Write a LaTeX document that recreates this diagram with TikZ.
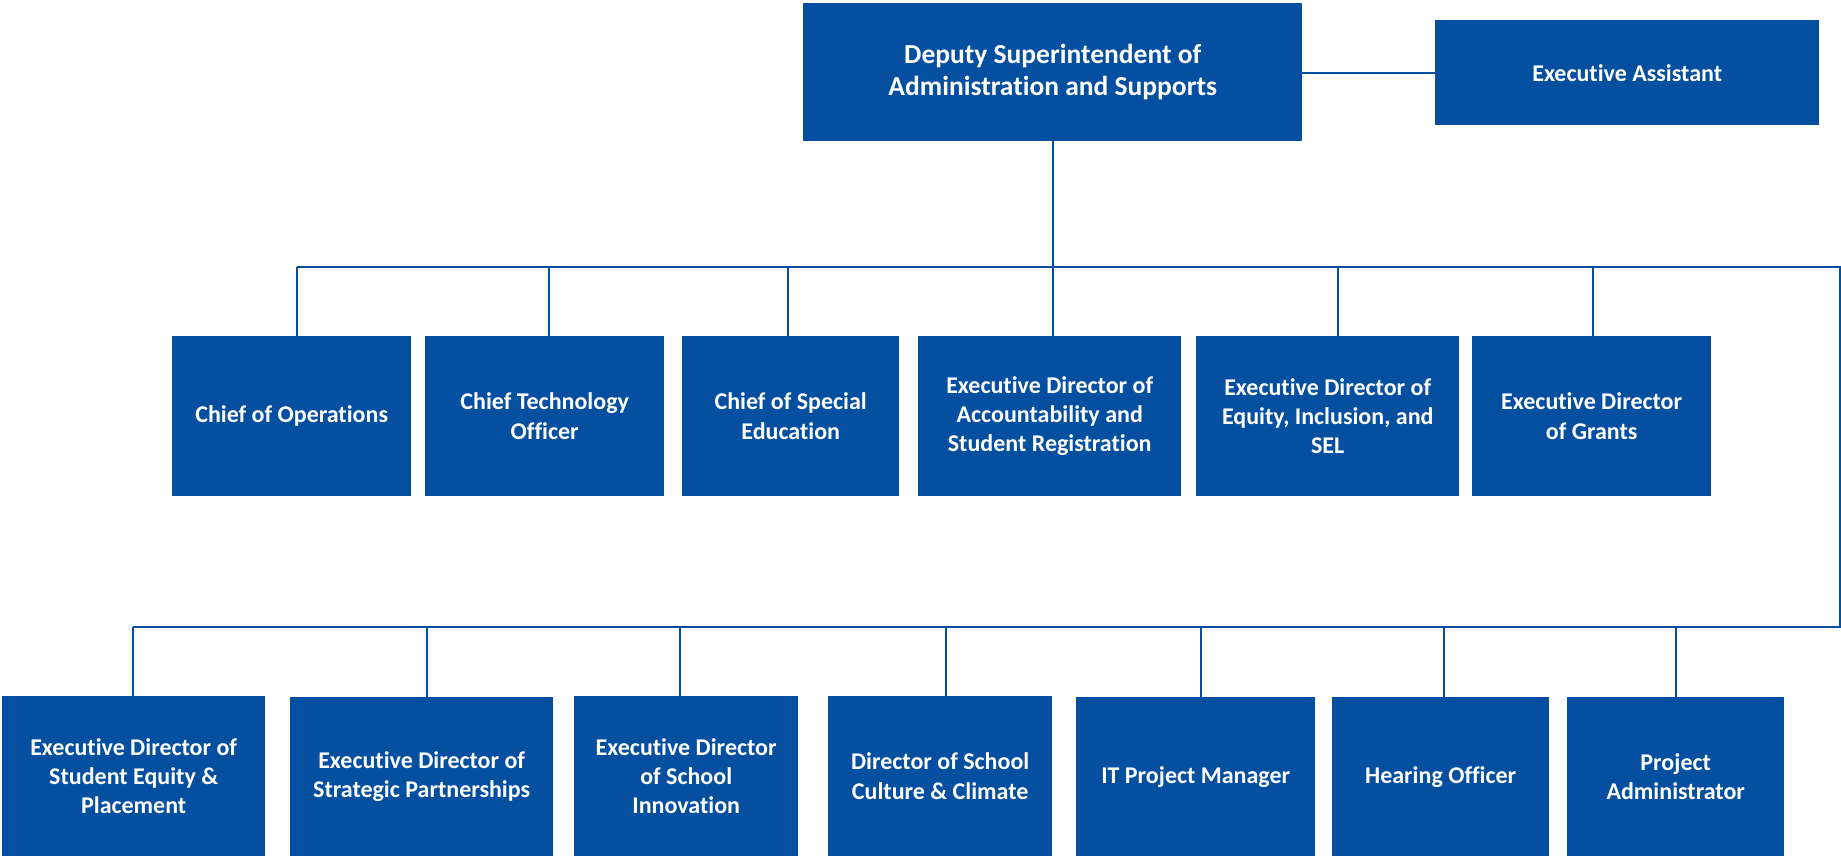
\documentclass[tikz,border=0pt]{standalone}
\usepackage{fontspec}
\setmainfont[RawFeature={-liga}]{Carlito}
\definecolor{orgblue}{HTML}{044FA0}
\begin{document}
\begin{tikzpicture}[x=1pt,y=-1pt,
  box/.style={fill=orgblue, draw=none, inner sep=0pt, anchor=north west, align=center,
    text=white, font=\fontsize{24}{29.3}\selectfont\bfseries},
  bigbox/.style={box, font=\fontsize{27.5}{32}\selectfont\bfseries},
  link/.style={draw=orgblue, line width=2pt}]
\useasboundingbox (0,0) rectangle (1841,856);
% top
\node[bigbox, minimum width=499pt, minimum height=138pt] (dep) at (803,3) {Deputy Superintendent of\\Administration and Supports};
\node[box, minimum width=384pt, minimum height=105pt] (ea) at (1435,20) {Executive Assistant};
% row 1
\node[box, minimum width=239pt, minimum height=160pt] (ops) at (172,336) {Chief of Operations};
\node[box, minimum width=239pt, minimum height=160pt] (tech) at (425,336) {Chief Technology\\Officer};
\node[box, minimum width=217pt, minimum height=160pt] (sped) at (682,336) {Chief of Special\\Education};
\node[box, minimum width=263pt, minimum height=160pt] (acct) at (918,336) {Executive Director of\\Accountability and\\Student Registration};
\node[box, minimum width=263pt, minimum height=160pt] (eq) at (1196,336) {Executive Director of\\Equity, Inclusion, and\\SEL};
\node[box, minimum width=239pt, minimum height=160pt] (grants) at (1472,336) {Executive Director\\of Grants};
% row 2
\node[box, minimum width=263pt, minimum height=160pt] (steq) at (2,696) {Executive Director of\\Student Equity \&\\Placement};
\node[box, minimum width=263pt, minimum height=159pt] (strat) at (290,697) {Executive Director of\\Strategic Partnerships};
\node[box, minimum width=224pt, minimum height=160pt] (innov) at (574,696) {Executive Director\\of School\\Innovation};
\node[box, minimum width=224pt, minimum height=160pt] (cult) at (828,696) {Director of School\\Culture \& Climate};
\node[box, minimum width=239pt, minimum height=159pt] (itpm) at (1076,697) {IT Project Manager};
\node[box, minimum width=217pt, minimum height=159pt] (hear) at (1332,697) {Hearing Officer};
\node[box, minimum width=217pt, minimum height=159pt] (padm) at (1567,697) {Project\\Administrator};
% bus coordinates
\coordinate (busA) at (1053,267);
\coordinate (busR) at (1840,267);
\coordinate (busB) at (1840,627);
% connectors
\draw[link] (dep.east |- 0,73) -- (ea.west |- 0,73);
\draw[link] (dep.south -| busA) -- (busA);
\draw[link] ([xshift=5.5pt]ops.north |- busA) -- (busR) -- (busB) -- ([xshift=-0.5pt]steq.north |- busB);
\draw[link] ([xshift=5.5pt]ops.north) -- ++(0,-69);
\draw[link] ([xshift=4.5pt]tech.north) -- ++(0,-69);
\draw[link] ([xshift=-2.5pt]sped.north) -- ++(0,-69);
\draw[link] ([xshift=3.5pt]acct.north) -- ++(0,-69);
\draw[link] ([xshift=10.5pt]eq.north) -- ++(0,-69);
\draw[link] ([xshift=1.5pt]grants.north) -- ++(0,-69);
\draw[link] ([xshift=-0.5pt]steq.north) -- ([xshift=-0.5pt]steq.north |- busB);
\draw[link] ([xshift=5.5pt]strat.north) -- ([xshift=5.5pt]strat.north |- busB);
\draw[link] ([xshift=-6pt]innov.north) -- ([xshift=-6pt]innov.north |- busB);
\draw[link] ([xshift=6pt]cult.north) -- ([xshift=6pt]cult.north |- busB);
\draw[link] ([xshift=5.5pt]itpm.north) -- ([xshift=5.5pt]itpm.north |- busB);
\draw[link] ([xshift=3.5pt]hear.north) -- ([xshift=3.5pt]hear.north |- busB);
\draw[link] ([xshift=0.5pt]padm.north) -- ([xshift=0.5pt]padm.north |- busB);
\end{tikzpicture}
\end{document}
